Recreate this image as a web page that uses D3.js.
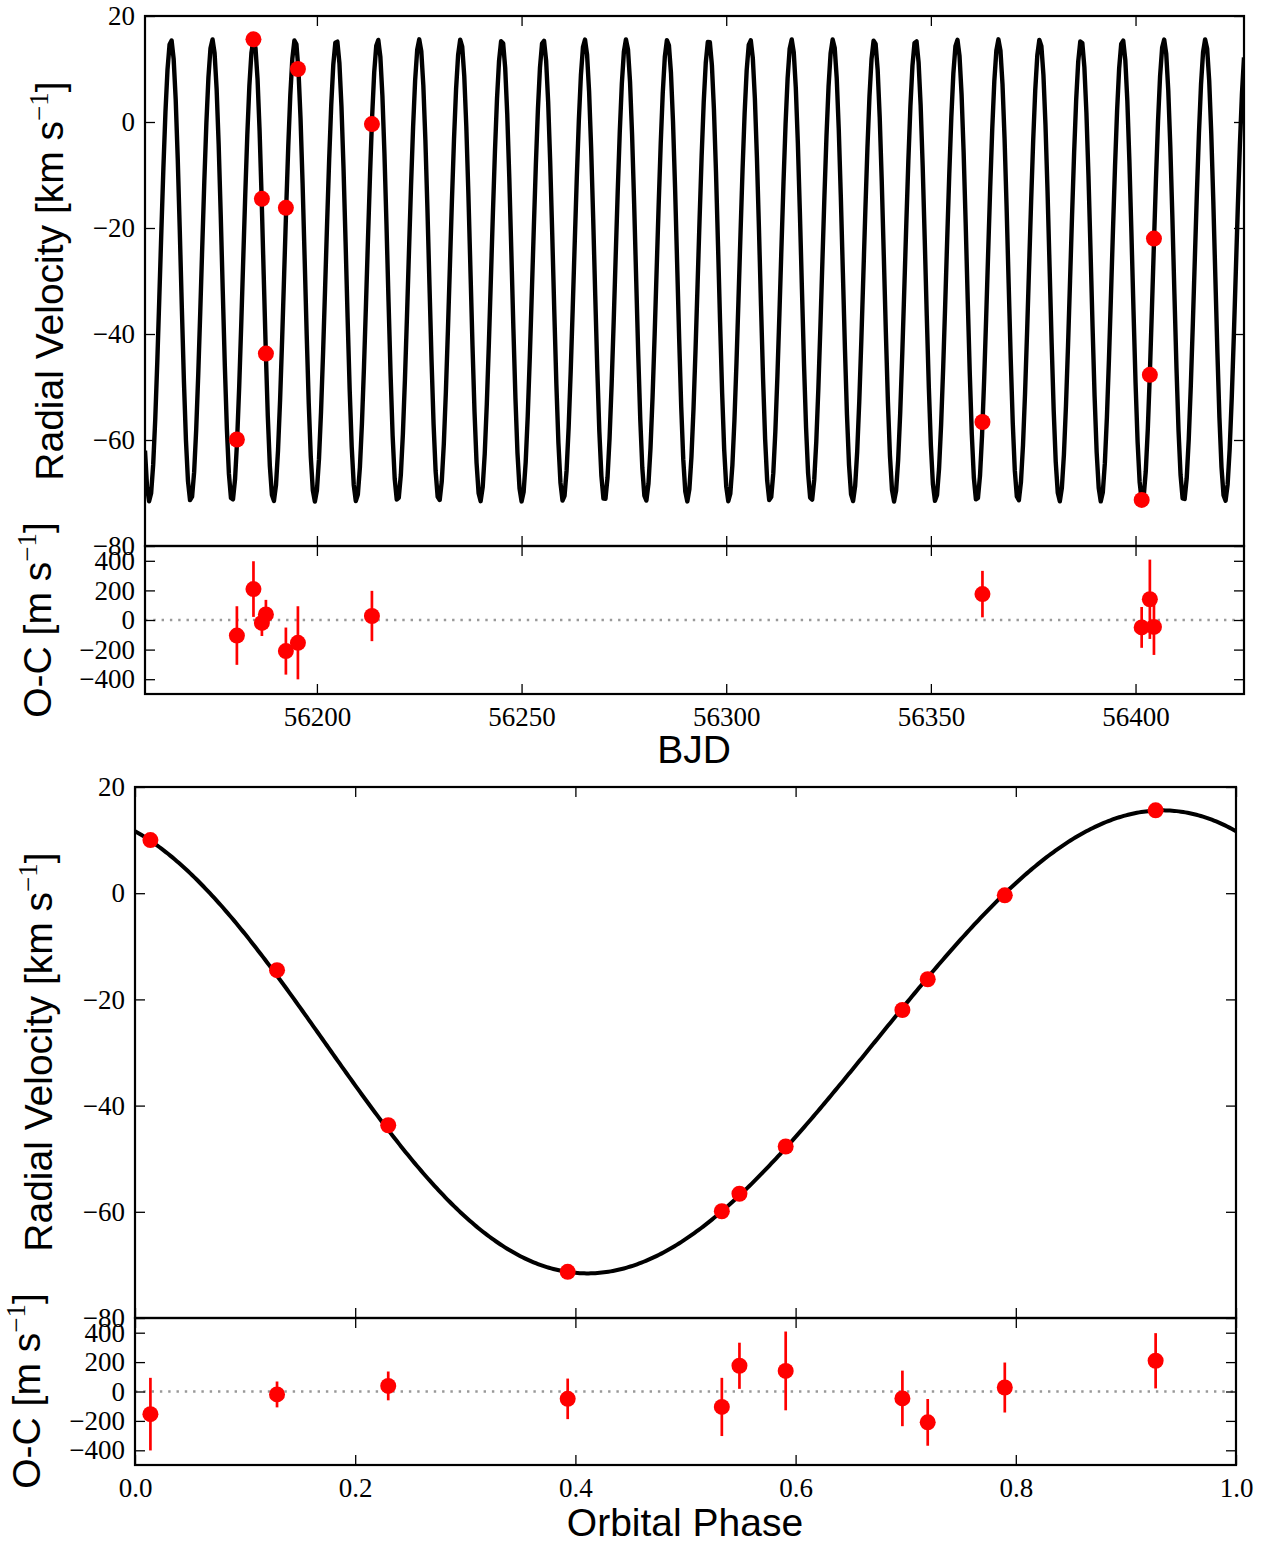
<!DOCTYPE html>
<html>
<head>
<meta charset="utf-8">
<script src="https://cdn.jsdelivr.net/npm/d3@7"></script>
<style>
body { margin: 0; background: #fff; }
</style>
</head>
<body>
<div id="plot"></div>
<script>

var bjd   = [56180.45, 56184.5, 56186.56, 56187.54, 56192.42, 56195.36, 56213.44, 56362.6, 56401.5, 56403.5, 56404.5];
var phase = [0.533, 0.927, 0.129, 0.230, 0.720, 0.014, 0.790, 0.549, 0.393, 0.591, 0.697];
var rv    = [-59.9, 15.6, -14.5, -43.7, -16.2, 10.0, -0.4, -56.6, -71.3, -47.7, -22.0];
var oc    = [-105, 209, -20, 38, -210, -154, 27, 175, -50, 140, -47];
var ocErr = [198, 188, 88, 98, 159, 247, 170, 157, 138, 268, 189];

// orbital solution used for the model curve
var period = 10.108, epoch = 56154.91;
var semiAmp = 43.6, gamma = -28.0, ecc = 0.035, omegaDeg = 90, periPhase = 0.172;

// ticks
var rvTicks = [-80, -60, -40, -20, 0, 20];
var ocTicks = [-400, -200, 0, 200, 400];
var bjdTicks = [56200, 56250, 56300, 56350, 56400];
var phaseTicks = [0, 0.2, 0.4, 0.6, 0.8, 1.0];

var svg = d3.select("#plot")
	.append("svg")
	.attr("width", 1266)
	.attr("height", 1543);

function model(ph) {
	var M = 2 * Math.PI * (ph - periPhase);
	var E = M;
	for (var i = 0; i < 30; i++) {
		E = E - (E - ecc * Math.sin(E) - M) / (1 - ecc * Math.cos(E));
	}
	var nu = 2 * Math.atan2(Math.sqrt(1 + ecc) * Math.sin(E / 2), Math.sqrt(1 - ecc) * Math.cos(E / 2));
	var w = omegaDeg * Math.PI / 180;
	return gamma + semiAmp * (Math.cos(nu + w) + ecc * Math.cos(w));
}

var serif = "'Liberation Serif', 'DejaVu Serif', serif";
var sans = "'Liberation Sans', Arial, sans-serif";

function frameAxes(g, x, y, xt, yt, xfmt, yfmt) {
	var x0 = x.range()[0], x1 = x.range()[1];
	var y0 = y.range()[1], y1 = y.range()[0];

	var axes = [
		g.append("g").attr("transform", "translate(" + x0 + ",0)")
			.call(d3.axisLeft(y).tickValues(yt).tickSizeInner(-10).tickSizeOuter(0).tickPadding(10).tickFormat(yfmt)),
		g.append("g").attr("transform", "translate(" + x1 + ",0)")
			.call(d3.axisRight(y).tickValues(yt).tickSizeInner(-10).tickSizeOuter(0).tickFormat("")),
		g.append("g").attr("transform", "translate(0," + y1 + ")")
			.call(d3.axisBottom(x).tickValues(xt).tickSizeInner(-10).tickSizeOuter(0).tickPadding(13).tickFormat(xfmt)),
		g.append("g").attr("transform", "translate(0," + y0 + ")")
			.call(d3.axisTop(x).tickValues(xt).tickSizeInner(-10).tickSizeOuter(0).tickFormat(""))
	];
	axes.forEach(function(a){
		a.select(".domain").remove();
		a.selectAll(".tick line").style("stroke", "#000").style("stroke-width", 1.3);
		a.selectAll(".tick text")
			.style("font-family", serif)
			.style("font-size", "27px")
			.style("fill", "#000");
	});

	g.append("rect")
		.attr("x", x0).attr("y", y0)
		.attr("width", x1 - x0).attr("height", y1 - y0)
		.style("fill", "none")
		.style("stroke", "#000")
		.style("stroke-width", 2.2);
}

function yLabel(g, cx, cy, main, unit) {
	var t = g.append("text")
		.attr("transform", "translate(" + cx + "," + cy + ") rotate(-90)")
		.attr("text-anchor", "middle")
		.style("font-family", sans)
		.style("font-size", "39px")
		.style("fill", "#000");
	t.append("tspan").text(main + " [" + unit + " s");
	t.append("tspan").text("\u22121")
		.attr("dy", -15)
		.style("font-family", serif)
		.style("font-size", "27px");
	t.append("tspan").text("]").attr("dy", 15);
}

function errorbars(g, x, y, xs) {
	xs.forEach(function(xv, i){
		g.append("line")
			.attr("x1", x(xv)).attr("x2", x(xv))
			.attr("y1", y(oc[i] - ocErr[i]))
			.attr("y2", y(oc[i] + ocErr[i]))
			.style("stroke", "#ff0000")
			.style("stroke-width", 2.7);
	});
	xs.forEach(function(xv, i){
		g.append("circle")
			.attr("cx", x(xv)).attr("cy", y(oc[i]))
			.attr("r", 8)
			.style("fill", "#ff0000");
	});
}

function zeroLine(g, x, y) {
	g.append("line")
		.attr("x1", x.range()[0]).attr("x2", x.range()[1])
		.attr("y1", y(0)).attr("y2", y(0))
		.style("stroke", "#999")
		.style("stroke-width", 2.4)
		.style("stroke-dasharray", "2.4,5.9");
}

var fmt = d3.format(".1f");
var intFmt = d3.format("d");

// ---------- top: RV vs BJD ----------
var xT = d3.scaleLinear().domain([56158, 56426.5]).range([145, 1244]);
var yT = d3.scaleLinear().domain([-80, 20]).range([546, 16]);
var yTr = d3.scaleLinear().domain([-500, 500]).range([694, 546]);

svg.append("clipPath").attr("id", "clipTop")
	.append("rect").attr("x", 145).attr("y", 16).attr("width", 1099).attr("height", 530);

var tGrid = d3.range(56158, 56427, 0.5);
svg.append("path")
	.datum(tGrid)
	.attr("clip-path", "url(#clipTop)")
	.attr("d", d3.line()
		.x(function(t){ return xT(t); })
		.y(function(t){ return yT(model((t - epoch) / period)); }))
	.style("fill", "none")
	.style("stroke", "#000")
	.style("stroke-width", 4.4)
	.style("stroke-linejoin", "round");

bjd.forEach(function(t, i){
	svg.append("circle")
		.attr("cx", xT(t)).attr("cy", yT(rv[i]))
		.attr("r", 8)
		.style("fill", "#ff0000");
});

var gTop = svg.append("g");
frameAxes(gTop, xT, yT, bjdTicks, rvTicks, function(){ return ""; }, intFmt);

var gTopR = svg.append("g");
zeroLine(gTopR, xT, yTr);
errorbars(gTopR, xT, yTr, bjd);
frameAxes(gTopR, xT, yTr, bjdTicks, ocTicks, intFmt, intFmt);

yLabel(svg, 63, 281, "Radial Velocity", "km");
yLabel(svg, 51, 620, "O-C", "m");

svg.append("text")
	.attr("x", 694).attr("y", 763)
	.attr("text-anchor", "middle")
	.style("font-family", sans)
	.style("font-size", "39px")
	.text("BJD");

// ---------- bottom: RV vs orbital phase ----------
var xB = d3.scaleLinear().domain([0, 1]).range([135, 1236]);
var yB = d3.scaleLinear().domain([-80, 20]).range([1318, 787]);
var yBr = d3.scaleLinear().domain([-500, 500]).range([1465, 1318]);

var phGrid = d3.range(0, 1.0005, 0.002);
svg.append("path")
	.datum(phGrid)
	.attr("d", d3.line()
		.x(function(p){ return xB(p); })
		.y(function(p){ return yB(model(p)); }))
	.style("fill", "none")
	.style("stroke", "#000")
	.style("stroke-width", 4);

phase.forEach(function(p, i){
	svg.append("circle")
		.attr("cx", xB(p)).attr("cy", yB(rv[i]))
		.attr("r", 8)
		.style("fill", "#ff0000");
});

var gBot = svg.append("g");
frameAxes(gBot, xB, yB, phaseTicks, rvTicks, function(){ return ""; }, intFmt);

var gBotR = svg.append("g");
zeroLine(gBotR, xB, yBr);
errorbars(gBotR, xB, yBr, phase);
frameAxes(gBotR, xB, yBr, phaseTicks, ocTicks, fmt, intFmt);

yLabel(svg, 52, 1052, "Radial Velocity", "km");
yLabel(svg, 40, 1391, "O-C", "m");

svg.append("text")
	.attr("x", 685).attr("y", 1536)
	.attr("text-anchor", "middle")
	.style("font-family", sans)
	.style("font-size", "39px")
	.text("Orbital Phase");

</script>
</body>
</html>
